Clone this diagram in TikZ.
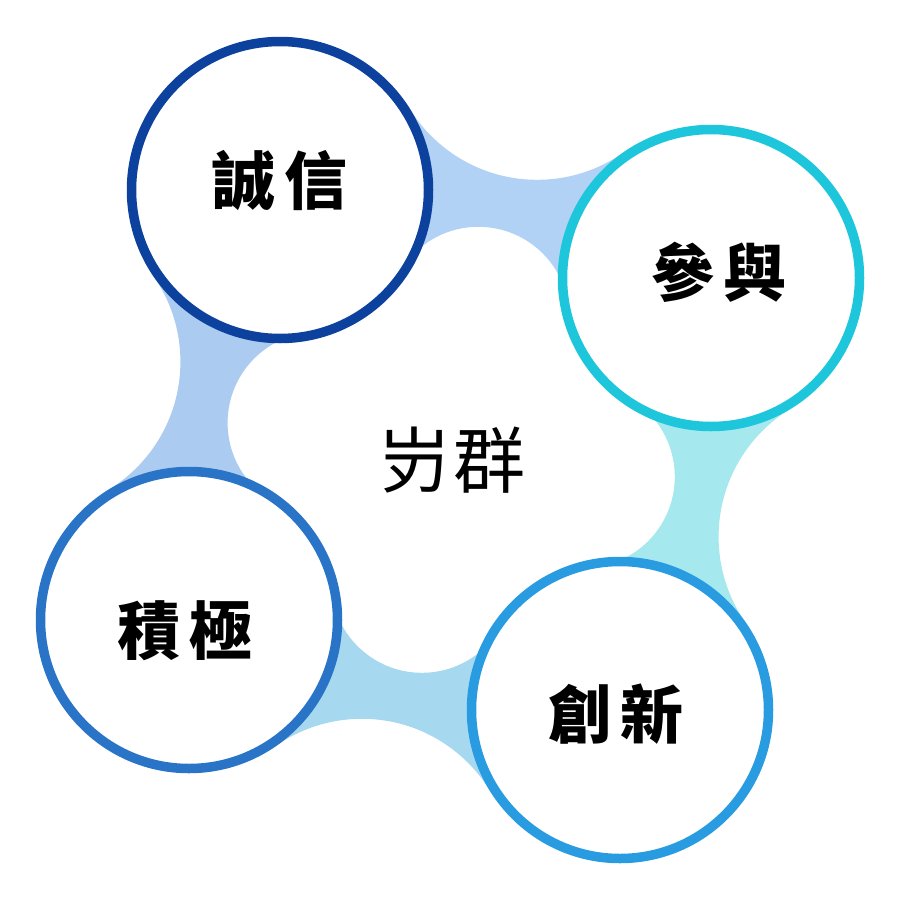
\documentclass[tikz,border=0pt]{standalone}
\usepackage{fontspec}
\newfontfamily\cjk{Noto Sans CJK TC}
\usetikzlibrary{calc}
\definecolor{ringA}{RGB}{12,66,158}
\definecolor{ringB}{RGB}{30,198,220}
\definecolor{ringC}{RGB}{42,116,200}
\definecolor{ringD}{RGB}{40,155,225}
\definecolor{bridgeAB}{RGB}{178,210,245}
\definecolor{bridgeBD}{RGB}{165,232,238}
\definecolor{bridgeDC}{RGB}{166,216,240}
\definecolor{bridgeCA}{RGB}{172,203,240}
\begin{document}
\begin{tikzpicture}[x=1pt,y=-1pt,
  ring/.style={circle, draw=#1, line width=9.5pt, fill=white, minimum size=297pt, inner sep=0pt},
  lbl/.style={font=\cjk\bfseries\fontsize{63}{63}\selectfont, text=black, inner sep=0pt},
  midlbl/.style={font=\cjk\fontsize{72}{72}\selectfont, text=black, inner sep=0pt}]
\useasboundingbox (0,0) rectangle (900,900);
% circle centres
\coordinate (p1) at (280,190);
\coordinate (p2) at (711,278);
\coordinate (p3) at (189,620);
\coordinate (p4) at (620,710);
% filler circle centres (outer / inner) for each bridge
\coordinate (o12) at (537.2,29.8);  \coordinate (i12) at (478.4,317.8);
\coordinate (o24) at (868.6,536.8); \coordinate (i24) at (583.8,476.8);
\coordinate (o43) at (361.9,868.8); \coordinate (i43) at (421.9,581.8);
\coordinate (o31) at (30.4,361.8);  \coordinate (i31) at (318.6,422.8);
% bridges
\begin{scope}
  \clip (p1) -- (o12) -- (p2) -- (i12) -- cycle;
  \fill[bridgeAB, even odd rule] (-100,-100) rectangle (1000,1000)
    (o12) circle[radius=150] (i12) circle[radius=91];
\end{scope}
\begin{scope}
  \clip (p2) -- (o24) -- (p4) -- (i24) -- cycle;
  \fill[bridgeBD, even odd rule] (-100,-100) rectangle (1000,1000)
    (o24) circle[radius=150] (i24) circle[radius=91];
\end{scope}
\begin{scope}
  \clip (p4) -- (o43) -- (p3) -- (i43) -- cycle;
  \fill[bridgeDC, even odd rule] (-100,-100) rectangle (1000,1000)
    (o43) circle[radius=150] (i43) circle[radius=91];
\end{scope}
\begin{scope}
  \clip (p3) -- (o31) -- (p1) -- (i31) -- cycle;
  \fill[bridgeCA, even odd rule] (-100,-100) rectangle (1000,1000)
    (o31) circle[radius=150] (i31) circle[radius=91];
\end{scope}
% rings
\node[ring=ringA] (c1) at (p1) {};
\node[ring=ringB] (c2) at (p2) {};
\node[ring=ringC] (c3) at (p3) {};
\node[ring=ringD] (c4) at (p4) {};
% labels
\node[lbl] (t1) at (280,181) {誠\hspace{10pt}信};
\node[lbl] (t2) at (719,272) {參\hspace{10pt}與};
\node[lbl] (t3) at (185,631) {積\hspace{10pt}極};
\node[lbl] (t4) at (616,714) {創\hspace{10pt}新};
\node[midlbl] (mid) at (452,460) {岃\hspace{3pt}群};
\end{tikzpicture}
\end{document}
